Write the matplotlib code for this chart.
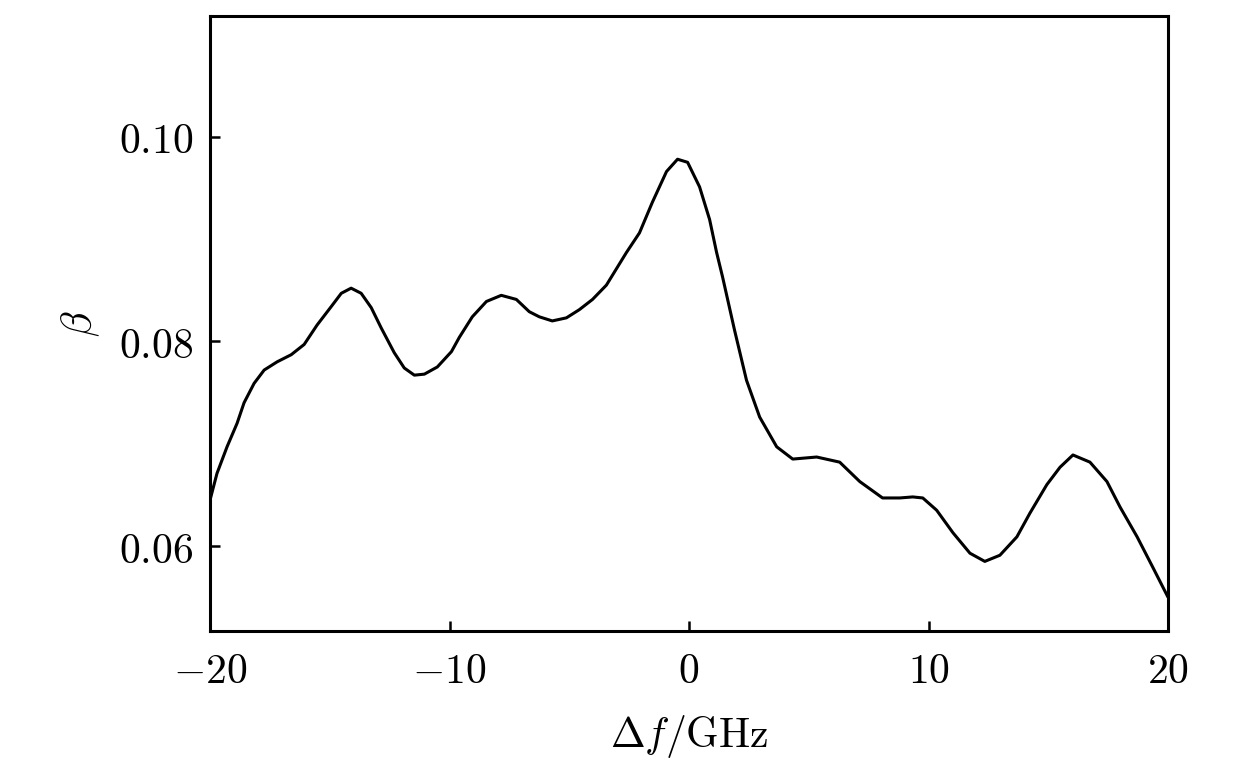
import matplotlib
matplotlib.use("Agg")
import matplotlib.pyplot as plt

plt.rcParams['mathtext.fontset'] = 'cm'
plt.rcParams['font.family'] = ['DejaVu Serif']

freq_ghz = [-20.0, -19.71, -19.29, -18.87, -18.58, -18.16, -17.74, -17.20, -16.61, -16.07,
            -15.53, -14.94, -14.52, -14.11, -13.69, -13.27, -12.85, -12.31, -11.89, -11.47,
            -11.05, -10.51, -9.92, -9.59, -9.05, -8.46, -7.84, -7.21, -6.67, -6.25,
            -5.71, -5.12, -4.58, -4.03, -3.45, -2.61, -2.07, -1.53, -0.94, -0.48,
            -0.06, 0.44, 0.86, 1.15, 1.40, 1.90, 2.40, 2.95, 3.66, 4.33,
            5.33, 6.29, 7.13, 8.08, 8.80, 9.34, 9.76, 10.34, 11.02, 11.73,
            12.35, 12.98, 13.69, 14.23, 14.94, 15.49, 16.03, 16.74, 17.45, 18.0,
            18.71, 19.37, 20.0]
beta = [0.0645, 0.0671, 0.0697, 0.0720, 0.0740, 0.0759, 0.0772, 0.0780, 0.0787, 0.0797,
        0.0816, 0.0834, 0.0847, 0.0852, 0.0847, 0.0833, 0.0813, 0.0789, 0.0774, 0.0767,
        0.0768, 0.0775, 0.0790, 0.0804, 0.0824, 0.0839, 0.0845, 0.0841, 0.0829, 0.0824,
        0.0820, 0.0823, 0.0831, 0.0841, 0.0855, 0.0887, 0.0906, 0.0936, 0.0966, 0.0978,
        0.0975, 0.0951, 0.0919, 0.0887, 0.0863, 0.0811, 0.0762, 0.0726, 0.0697, 0.0685,
        0.0687, 0.0682, 0.0663, 0.0647, 0.0647, 0.0648, 0.0647, 0.0635, 0.0613, 0.0593,
        0.0585, 0.0591, 0.0609, 0.0632, 0.0660, 0.0677, 0.0689, 0.0682, 0.0663, 0.0638,
        0.0609, 0.0579, 0.0550]

xticks = [-20, -10, 0, 10, 20]
xticklabels = ['$-20$', '$-10$', '$0$', '$10$', '$20$']
yticks = [0.06, 0.08, 0.10]
yticklabels = ['$0.06$', '$0.08$', '$0.10$']

fig = plt.figure(figsize=(12.6, 7.64), dpi=100)
ax = fig.add_axes([0.1667, 0.1741, 0.7603, 0.8050])
ax.plot(freq_ghz, beta, color='black', lw=2.2, solid_joinstyle='round', solid_capstyle='round')
ax.set_xlim(-20, 20)
ax.set_ylim(0.0517, 0.1118)
ax.set_xticks(xticks)
ax.set_xticklabels(xticklabels)
ax.set_yticks(yticks)
ax.set_yticklabels(yticklabels)
ax.tick_params(direction='in', length=7, width=1.8, labelsize=30, top=False, right=False)
ax.tick_params(axis='x', pad=14)
ax.tick_params(axis='y', pad=12)
for s in ax.spines.values():
    s.set_linewidth(2.2)
ax.set_xlabel(r'$\Delta f/\mathrm{GHz}$', fontsize=30, labelpad=15)
ax.set_ylabel(r'$\beta$', fontsize=30, labelpad=12)
fig.savefig('out.png', dpi=100)
